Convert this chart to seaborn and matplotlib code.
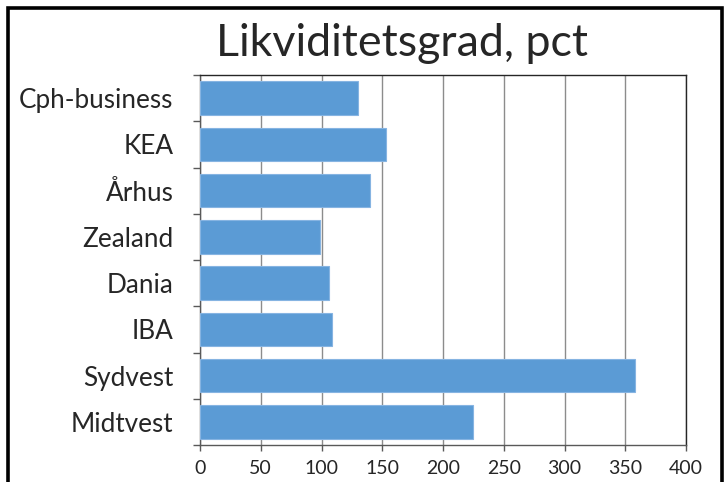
import matplotlib
matplotlib.use("Agg")
import matplotlib.pyplot as plt
from matplotlib.patches import Rectangle
from matplotlib.ticker import FixedLocator
import seaborn as sns
import pandas as pd

# data
skoler = ["Cph-business", "KEA", "Århus", "Zealand", "Dania", "IBA", "Sydvest", "Midtvest"]
likviditet = [130, 153, 140, 99, 106, 109, 358, 225]
x_ticks = [0, 50, 100, 150, 200, 250, 300, 350, 400]

sns.set_style("white")
plt.rcParams["font.family"] = ["Lato", "DejaVu Sans"]

df = pd.DataFrame({"Skole": skoler, "Likviditetsgrad": likviditet})

fig = plt.figure(figsize=(7.26, 4.82), dpi=100)
ax = fig.add_axes([200 / 726, 1 - 445 / 482, 486 / 726, 370 / 482])

sns.barplot(data=df, x="Likviditetsgrad", y="Skole", orient="h", color="#5B9BD5",
            saturation=1, width=0.72, edgecolor="#86b4e2", linewidth=0.8, ax=ax, zorder=3)

ax.set_xlim(0, 400)
ax.set_ylim(len(skoler) - 0.5, -0.5)
ax.set_xticks(x_ticks)
ax.set_xticklabels([str(t) for t in x_ticks], fontsize=14)
ax.xaxis.grid(True, color="#8c8c8c", linewidth=1)
ax.set_axisbelow(True)
ax.set_xlabel("")
ax.set_ylabel("")

ax.tick_params(axis="y", which="major", length=0, pad=19, labelsize=18.8)
ax.yaxis.set_minor_locator(FixedLocator([i - 0.5 for i in range(len(skoler) + 1)]))
ax.tick_params(axis="y", which="minor", left=True, length=5, width=1, color="#595959")
ax.tick_params(axis="x", which="major", bottom=True, length=4, width=1, color="#595959", pad=7)

for side, col in [("left", "#595959"), ("bottom", "#595959"), ("top", "#262626"), ("right", "#262626")]:
    ax.spines[side].set_visible(True)
    ax.spines[side].set_color(col)
    ax.spines[side].set_linewidth(1)

fig.text(402 / 726, 1 - 43 / 482, "Likviditetsgrad, pct", ha="center", va="center", fontsize=32.2)

# outer chart frame
fig.patches.append(Rectangle((7.5 / 726, -0.1), (722 - 7.5) / 726, 1.1 - 7.5 / 482,
                             transform=fig.transFigure, fill=False, edgecolor="black",
                             linewidth=2.6, clip_on=False))

fig.savefig("out.png", dpi=100)
